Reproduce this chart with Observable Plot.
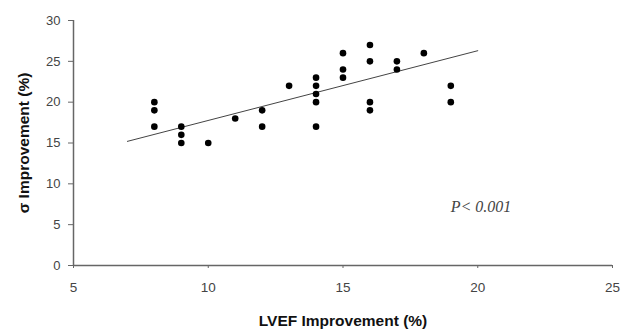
<!DOCTYPE html>
<html>
<head>
<meta charset="utf-8">
<script src="https://cdn.jsdelivr.net/npm/d3@7"></script>
<script src="https://cdn.jsdelivr.net/npm/@observablehq/plot@0.6"></script>
<style>
  html, body { margin: 0; padding: 0; background: #fff; }
  #chart svg { display: block; font-family: "Liberation Sans", Arial, sans-serif; }
  g[aria-label="x-axis label"] text, g[aria-label="y-axis label"] text { font-weight: bold; fill: #111; font-size: 15.5px; }
</style>
</head>
<body>
<div id="chart"></div>
<script>
// LVEF improvement (%) for each patient
const lvef = [8, 8, 8, 9, 9, 9, 10, 11, 12, 12, 13, 14, 14, 14, 14, 14, 15, 15, 15, 16, 16, 16, 16, 17, 17, 18, 19, 19];
// sigma improvement (%) for each patient
const sigma = [20, 19, 17, 17, 16, 15, 15, 18, 19, 17, 22, 23, 22, 21, 20, 17, 26, 24, 23, 27, 25, 20, 19, 25, 24, 26, 22, 20];
// regression line end points
const trendX = [7, 20];
const trendY = [15.2, 26.3];
// tick values
const xTicks = [5, 10, 15, 20, 25];
const yTicks = [0, 5, 10, 15, 20, 25, 30];
// annotation
const noteX = [19.0];
const noteY = [7.2];
const noteText = ["P< 0.001"];

const points = lvef.map((x, i) => ({x, y: sigma[i]}));
const trend = trendX.map((x, i) => ({x, y: trendY[i]}));
const note = noteText.map((t, i) => ({x: noteX[i], y: noteY[i], t}));

const chart = Plot.plot({
  width: 638,
  height: 329,
  marginLeft: 73,
  marginRight: 26,
  marginTop: 20,
  marginBottom: 64,
  style: {fontFamily: "Liberation Sans, Arial, sans-serif", fontSize: "13px", color: "#444"},
  x: {domain: [5, 25]},
  y: {domain: [0, 30]},
  marks: [
    Plot.axisY({ticks: yTicks, tickSize: 5, tickPadding: 8, stroke: "#666", fontSize: 13,
      label: "σ Improvement (%)", labelAnchor: "center", labelArrow: "none", labelOffset: 56}),
    Plot.axisX({ticks: xTicks, tickSize: 3, tickPadding: 14, stroke: "#666", fontSize: 13.5,
      label: "LVEF Improvement (%)", labelAnchor: "center", labelArrow: "none", labelOffset: 60}),
    Plot.ruleY([0], {stroke: "#666", strokeWidth: 1.5}),
    Plot.ruleX([5], {stroke: "#666", strokeWidth: 1.5}),
    Plot.line(trend, {x: "x", y: "y", stroke: "#444", strokeWidth: 1}),
    Plot.dot(points, {x: "x", y: "y", r: 3.3, fill: "#000", stroke: "none"}),
    Plot.text(note, {x: "x", y: "y", text: "t", textAnchor: "start", fontFamily: "Liberation Serif, Times New Roman, serif",
      fontStyle: "italic", fontSize: 16, fill: "#444"})
  ]
});
document.getElementById("chart").appendChild(chart);
</script>
</body>
</html>
